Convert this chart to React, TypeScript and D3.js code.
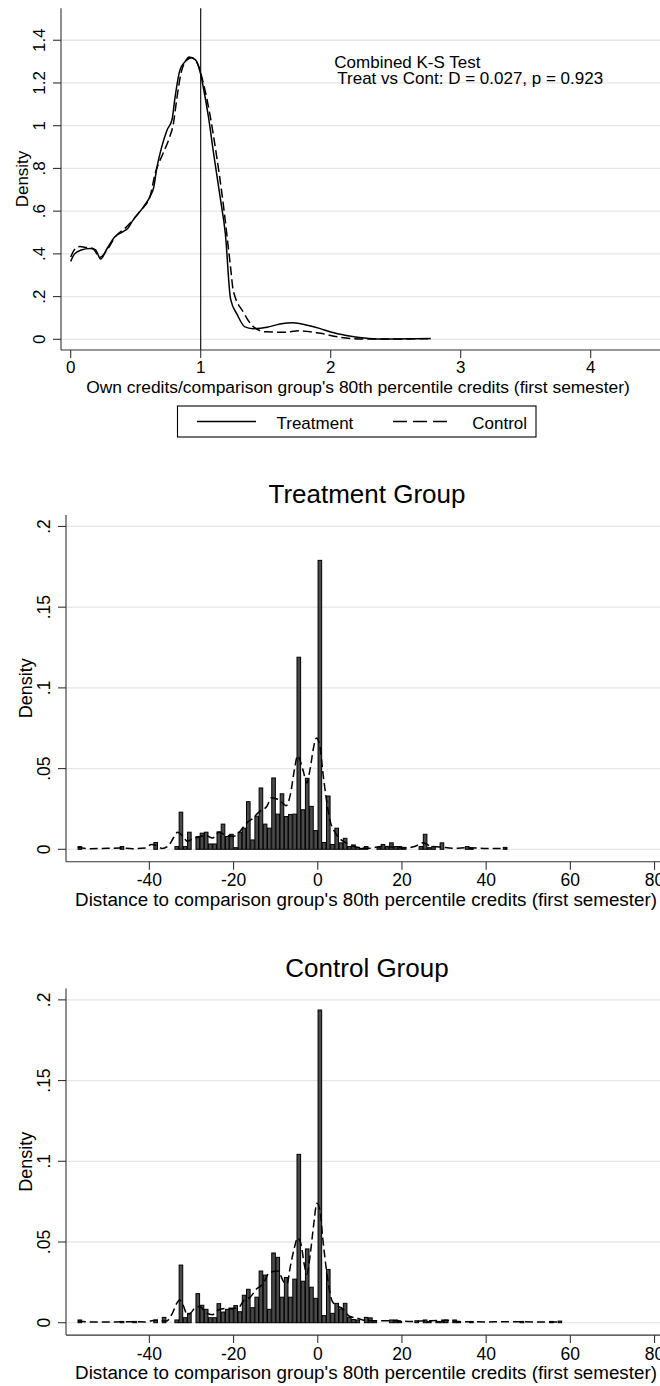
import React from 'react';
import * as d3 from 'd3';

// ---------- Top chart data ----------
const topTicksX = [0, 1, 2, 3, 4];
const topTicksY = [0, 0.2, 0.4, 0.6, 0.8, 1, 1.2, 1.4];
const topTickLabelsY = ['0', '.2', '.4', '.6', '.8', '1', '1.2', '1.4'];

const treatRatioX = [0.0, 0.03, 0.08, 0.15, 0.19, 0.23, 0.28, 0.34, 0.4, 0.44, 0.48, 0.56, 0.61, 0.64, 0.66, 0.7, 0.74, 0.78, 0.8, 0.84, 0.88, 0.91, 0.96, 1.0, 1.02, 1.06, 1.1, 1.15, 1.19, 1.23, 1.28, 1.34, 1.4, 1.51, 1.61, 1.71, 1.82, 1.92, 2.0, 2.12, 2.22, 2.35, 2.5, 2.65, 2.77];
const treatRatioY = [0.365, 0.4, 0.418, 0.425, 0.42, 0.376, 0.425, 0.48, 0.503, 0.52, 0.558, 0.62, 0.668, 0.715, 0.793, 0.9, 0.978, 1.03, 1.121, 1.26, 1.3, 1.322, 1.308, 1.24, 1.18, 1.04, 0.867, 0.664, 0.492, 0.188, 0.117, 0.058, 0.05, 0.056, 0.072, 0.078, 0.066, 0.05, 0.034, 0.018, 0.009, 0.002, 0.001, 0.003, 0.004];

const contRatioX = [0.0, 0.03, 0.07, 0.12, 0.17, 0.225, 0.28, 0.34, 0.43, 0.53, 0.61, 0.65, 0.71, 0.76, 0.79, 0.815, 0.85, 0.89, 0.93, 0.98, 1.02, 1.07, 1.12, 1.17, 1.23, 1.25, 1.33, 1.4, 1.5, 1.64, 1.76, 1.92, 2.07, 2.22, 2.4, 2.6, 2.77];
const contRatioY = [0.385, 0.42, 0.434, 0.43, 0.425, 0.384, 0.418, 0.478, 0.527, 0.598, 0.668, 0.777, 0.87, 0.945, 1.01, 1.121, 1.25, 1.305, 1.318, 1.285, 1.2, 1.055, 0.868, 0.65, 0.336, 0.23, 0.125, 0.062, 0.035, 0.033, 0.04, 0.028, 0.01, 0.002, 0.001, 0.002, 0.003];

// ---------- Histogram data ----------
const histTicksX = [-40, -20, 0, 20, 40, 60, 80];
const histTickLabelsX = ['-40', '-20', '0', '20', '40', '60', '80'];
const histTicksY = [0, 0.05, 0.1, 0.15, 0.2];
const histTickLabelsY = ['0', '.05', '.1', '.15', '.2'];

const treatBins = [-57, -47, -39, -34, -33, -32, -31, -29, -28, -27, -26, -25, -24, -23, -22, -21, -20, -19, -18, -17, -16, -15, -14, -13, -12, -11, -10, -9, -8, -7, -6, -5, -4, -3, -2, -1, 0, 1, 2, 3, 4, 5, 6, 7, 8, 9, 10, 11, 14, 15, 16, 17, 18, 19, 20, 24, 25, 26, 27, 29, 35, 36, 44];
const treatHeights = [0.0017, 0.0017, 0.0042, 0.0017, 0.023, 0.0017, 0.0106, 0.0079, 0.01, 0.0106, 0.0033, 0.0033, 0.0108, 0.0156, 0.0079, 0.0093, 0.001, 0.0106, 0.0131, 0.0295, 0.0058, 0.0205, 0.038, 0.0156, 0.0131, 0.0442, 0.0218, 0.0344, 0.0203, 0.0216, 0.0218, 0.119, 0.0245, 0.044, 0.0266, 0.0116, 0.179, 0.0042, 0.033, 0.003, 0.0131, 0.004, 0.0068, 0.0017, 0.0027, 0.0012, 0.0006, 0.0017, 0.001, 0.003, 0.0017, 0.004, 0.0017, 0.0017, 0.0012, 0.0017, 0.0093, 0.001, 0.0017, 0.004, 0.0017, 0.0006, 0.0012];

const treatKdeX = [-57, -54, -50, -47, -44, -41, -39.5, -38, -37, -35.5, -34.3, -33.3, -32, -31, -30, -28.5, -26.5, -25, -23.5, -22, -20, -18.5, -17, -15.5, -14, -12, -11, -9.5, -8.5, -7.5, -6.5, -5.5, -4.8, -4.2, -3.4, -2.6, -1.8, -1.0, -0.3, 0.5, 1.2, 2.1, 3.0, 4.0, 5.5, 7, 9, 12, 15, 18, 21, 23, 25, 27, 29, 32, 36, 40, 45];
const treatKdeY = [0.0012, 0.0004, 0.0006, 0.0008, 0.0004, 0.0008, 0.003, 0.002, 0.0005, 0.002, 0.007, 0.0105, 0.008, 0.005, 0.006, 0.0075, 0.0085, 0.007, 0.0105, 0.009, 0.008, 0.011, 0.016, 0.019, 0.023, 0.027, 0.032, 0.031, 0.029, 0.027, 0.034, 0.05, 0.058, 0.055, 0.048, 0.041, 0.05, 0.063, 0.069, 0.064, 0.048, 0.03, 0.017, 0.011, 0.006, 0.0037, 0.0015, 0.0006, 0.0017, 0.0015, 0.0008, 0.0017, 0.004, 0.0018, 0.0015, 0.0006, 0.001, 0.0005, 0.0005];

const contBins = [-57, -47, -44, -39, -37, -34, -33, -32, -31, -29, -28, -27, -26, -25, -24, -23, -22, -21, -20, -19, -18, -17, -16, -15, -14, -13, -12, -11, -10, -9, -8, -7, -6, -5, -4, -3, -2, -1, 0, 1, 2, 3, 4, 5, 6, 7, 8, 9, 11, 12, 13, 17, 18, 19, 23, 25, 26, 28, 29, 30, 32, 33, 36, 48, 55, 57];
const contHeights = [0.0017, 0.0008, 0.0008, 0.0017, 0.0033, 0.0017, 0.0357, 0.0031, 0.0058, 0.018, 0.0108, 0.0083, 0.0031, 0.0031, 0.0118, 0.0066, 0.0083, 0.0083, 0.0106, 0.0068, 0.017, 0.0207, 0.0093, 0.0158, 0.032, 0.0295, 0.0083, 0.0432, 0.0405, 0.0158, 0.028, 0.0158, 0.027, 0.1043, 0.0257, 0.0457, 0.022, 0.0151, 0.1937, 0.0044, 0.033, 0.0058, 0.012, 0.0085, 0.012, 0.0033, 0.002, 0.0017, 0.0033, 0.003, 0.0012, 0.0017, 0.0017, 0.0008, 0.0012, 0.0017, 0.0008, 0.0008, 0.0008, 0.0017, 0.0017, 0.0008, 0.0008, 0.0008, 0.0008, 0.001];

const contKdeX = [-57, -53, -48, -45, -41, -38.5, -36, -34.5, -33.5, -32.8, -32, -31, -30.2, -29, -28, -26.5, -25, -23.5, -21, -19, -17.5, -16, -14.5, -13, -11.5, -9.5, -8, -7.3, -6.5, -5.5, -4.8, -4.0, -3.2, -2.6, -1.8, -1.0, -0.2, 0.5, 1.2, 2.2, 3.5, 5.0, 6.0, 7.5, 9, 12, 15, 19, 22, 26, 30, 34, 40, 46, 52, 58];
const contKdeY = [0.001, 0.0004, 0.0005, 0.0006, 0.0005, 0.0015, 0.001, 0.006, 0.012, 0.014, 0.011, 0.005, 0.006, 0.0095, 0.01, 0.006, 0.005, 0.008, 0.009, 0.009, 0.014, 0.016, 0.021, 0.024, 0.031, 0.032, 0.025, 0.024, 0.035, 0.047, 0.0525, 0.049, 0.036, 0.03, 0.042, 0.06, 0.074, 0.07, 0.052, 0.03, 0.013, 0.01, 0.0085, 0.004, 0.003, 0.0012, 0.0012, 0.0012, 0.0008, 0.0012, 0.0015, 0.0006, 0.0005, 0.0006, 0.0005, 0.0005];

const FONT = "'Liberation Sans', Arial, Helvetica, sans-serif";
const GRID = '#e6e6e6';
const AXIS = '#333';
const W = 660;

function TopChart() {
  const x = d3.scaleLinear().domain([-0.0746, 4.6]).range([61, 668.7]);
  const y = d3.scaleLinear().domain([-0.05, 1.55]).range([350, 8.2]);
  const mk = (xs: number[], ys: number[]) =>
    d3
      .line<number>()
      .x((i) => x(xs[i]))
      .y((i) => y(ys[i]))
      .curve(d3.curveMonotoneX)(xs.map((_, i) => i)) || '';
  return (
    <g>
      {topTicksY.map((t) => (
        <line key={'g' + t} x1={61} x2={W} y1={y(t)} y2={y(t)} stroke={GRID} strokeWidth={1.3} />
      ))}
      <path d={mk(contRatioX, contRatioY)} fill="none" stroke="#000" strokeWidth={1.5} strokeDasharray="9,4" />
      <path d={mk(treatRatioX, treatRatioY)} fill="none" stroke="#000" strokeWidth={1.5} />
      <line x1={x(1)} x2={x(1)} y1={8.2} y2={350} stroke="#000" strokeWidth={1.1} />
      <line x1={61} x2={61} y1={8.2} y2={350} stroke={AXIS} strokeWidth={1.1} />
      <line x1={61} x2={W} y1={350} y2={350} stroke={AXIS} strokeWidth={1.1} />
      {topTicksY.map((t, i) => (
        <g key={'ty' + t}>
          <line x1={53} x2={61} y1={y(t)} y2={y(t)} stroke={AXIS} strokeWidth={1.1} />
          <text transform={`translate(45,${y(t)}) rotate(-90)`} textAnchor="middle" fontSize={17} fontFamily={FONT}>
            {topTickLabelsY[i]}
          </text>
        </g>
      ))}
      {topTicksX.map((t) => (
        <g key={'tx' + t}>
          <line x1={x(t)} x2={x(t)} y1={350} y2={358} stroke={AXIS} strokeWidth={1.1} />
          <text x={x(t)} y={373} textAnchor="middle" fontSize={17} fontFamily={FONT}>
            {String(t)}
          </text>
        </g>
      ))}
      <text transform={`translate(27.5,179) rotate(-90)`} textAnchor="middle" fontSize={17} fontFamily={FONT}>
        Density
      </text>
      <text x={358} y={392.5} textAnchor="middle" fontSize={17.4} fontFamily={FONT}>
        Own credits/comparison group's 80th percentile credits (first semester)
      </text>
      <text x={334.3} y={68.3} fontSize={17} fontFamily={FONT}>
        Combined K-S Test
      </text>
      <text x={337.3} y={84} fontSize={17} fontFamily={FONT}>
        Treat vs Cont: D = 0.027, p = 0.923
      </text>
      <rect x={177.5} y={406} width={358.5} height={31} fill="#fff" stroke="#000" strokeWidth={1.1} />
      <line x1={197} x2={256} y1={421.5} y2={421.5} stroke="#000" strokeWidth={1.5} />
      <text x={276.5} y={428.5} fontSize={17} fontFamily={FONT}>
        Treatment
      </text>
      <line x1={393} x2={452} y1={421.5} y2={421.5} stroke="#000" strokeWidth={1.5} strokeDasharray="14,6" />
      <text x={472.3} y={428.5} fontSize={17} fontFamily={FONT}>
        Control
      </text>
    </g>
  );
}

type HistProps = {
  title: string;
  titleY: number;
  axisTop: number;
  axisBottom: number;
  bins: number[];
  heights: number[];
  kdeX: number[];
  kdeY: number[];
};

function HistChart({ title, titleY, axisTop, axisBottom, bins, heights, kdeX, kdeY }: HistProps) {
  const x = d3.scaleLinear().domain([-59.8, 85]).range([66, 675.6]);
  const y = d3.scaleLinear().domain([-0.00768, 0.2071]).range([axisBottom, axisTop]);
  const kde =
    d3
      .line<number>()
      .x((i) => x(kdeX[i]))
      .y((i) => y(kdeY[i]))
      .curve(d3.curveMonotoneX)(kdeX.map((_, i) => i)) || '';
  const midY = (axisTop + axisBottom) / 2;
  return (
    <g>
      {histTicksY.map((t) => (
        <line key={'g' + t} x1={66} x2={W} y1={y(t)} y2={y(t)} stroke={GRID} strokeWidth={1.3} />
      ))}
      {bins.map((b, i) => (
        <rect
          key={'b' + b}
          x={x(b) + 0.3}
          width={x(b + 1) - x(b) - 0.6}
          y={y(heights[i])}
          height={y(0) - y(heights[i])}
          fill="#4a4a4a"
          stroke="#000"
          strokeWidth={1}
        />
      ))}
      <path d={kde} fill="none" stroke="#000" strokeWidth={1.5} strokeDasharray="8,4" />
      <line x1={66} x2={66} y1={axisTop} y2={axisBottom} stroke={AXIS} strokeWidth={1.1} />
      <line x1={66} x2={W} y1={axisBottom} y2={axisBottom} stroke={AXIS} strokeWidth={1.1} />
      {histTicksY.map((t, i) => (
        <g key={'ty' + t}>
          <line x1={58} x2={66} y1={y(t)} y2={y(t)} stroke={AXIS} strokeWidth={1.1} />
          <text transform={`translate(50,${y(t)}) rotate(-90)`} textAnchor="middle" fontSize={17.5} fontFamily={FONT}>
            {histTickLabelsY[i]}
          </text>
        </g>
      ))}
      {histTicksX.map((t, i) => (
        <g key={'tx' + t}>
          <line x1={x(t)} x2={x(t)} y1={axisBottom} y2={axisBottom + 8} stroke={AXIS} strokeWidth={1.1} />
          <text x={x(t)} y={axisBottom + 24.5} textAnchor="middle" fontSize={17.5} fontFamily={FONT}>
            {histTickLabelsX[i]}
          </text>
        </g>
      ))}
      <text transform={`translate(32,${midY}) rotate(-90)`} textAnchor="middle" fontSize={18} fontFamily={FONT}>
        Density
      </text>
      <text x={366} y={axisBottom + 44} textAnchor="middle" fontSize={18.8} fontFamily={FONT}>
        Distance to comparison group's 80th percentile credits (first semester)
      </text>
      <text x={367} y={titleY} textAnchor="middle" fontSize={26} fontFamily={FONT}>
        {title}
      </text>
    </g>
  );
}

export default function App() {
  return (
    <svg
      width={660}
      height={1386}
      viewBox="0 0 660 1386"
      style={{ position: 'absolute', left: 0, top: 0, background: '#fff' }}
    >
      <rect x={0} y={0} width={660} height={1386} fill="#fff" />
      <TopChart />
      <HistChart
        title="Treatment Group"
        titleY={503.3}
        axisTop={515}
        axisBottom={861.7}
        bins={treatBins}
        heights={treatHeights}
        kdeX={treatKdeX}
        kdeY={treatKdeY}
      />
      <HistChart
        title="Control Group"
        titleY={976.7}
        axisTop={988.4}
        axisBottom={1335.1}
        bins={contBins}
        heights={contHeights}
        kdeX={contKdeX}
        kdeY={contKdeY}
      />
    </svg>
  );
}
